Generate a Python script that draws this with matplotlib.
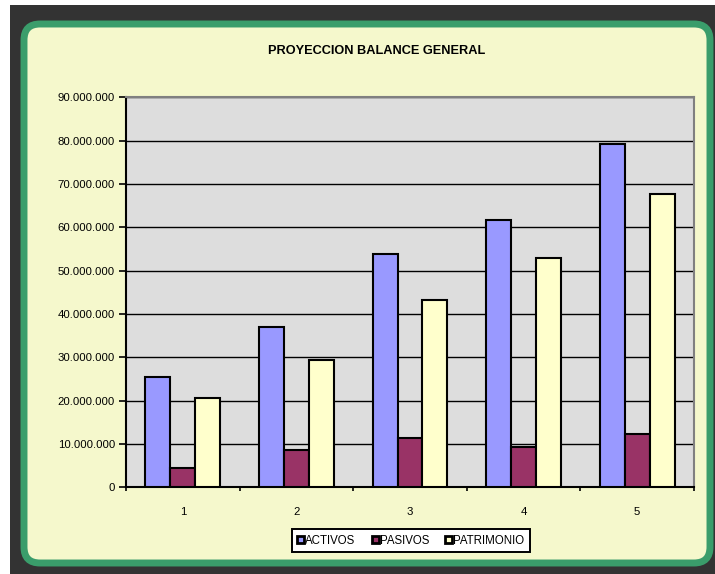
import numpy as np
import matplotlib.pyplot as plt
from matplotlib.patches import Rectangle, FancyBboxPatch
from matplotlib.ticker import FuncFormatter

plt.rcParams['font.family'] = ['Liberation Sans', 'DejaVu Sans']

years = ['1', '2', '3', '4', '5']
activos = [25.4e6, 37.1e6, 53.8e6, 61.7e6, 79.3e6]
pasivos = [4.5e6, 8.5e6, 11.3e6, 9.4e6, 12.4e6]
patrimonio = [20.5e6, 29.4e6, 43.2e6, 53.0e6, 67.8e6]

W, H = 715, 574
fig = plt.figure(figsize=(W / 100, H / 100), dpi=100)
fig.patch.set_facecolor('white')

# background: dark frame + rounded green box, drawn in pixel units
bg = fig.add_axes([0, 0, 1, 1], zorder=-10)
bg.set_xlim(0, W)
bg.set_ylim(H, 0)
bg.axis('off')
bg.add_patch(Rectangle((10, 5), W - 10, H - 5, facecolor='#333333', edgecolor='none'))
bg.add_patch(FancyBboxPatch((40, 40), 654, 507, boxstyle='round,pad=16',
                            facecolor='#F5F8CC', edgecolor='#3A9D6B', linewidth=5))

# plot area
x0, x1 = 126, 694
y0, y1 = 97.3, 487.3
ax = fig.add_axes([x0 / W, 1 - y1 / H, (x1 - x0) / W, (y1 - y0) / H])
ax.set_facecolor('#DDDDDD')

x = np.arange(len(years))
w = 0.22
series = [(activos, '#9999FF', 'ACTIVOS'),
          (pasivos, '#993366', 'PASIVOS'),
          (patrimonio, '#FFFFCC', 'PATRIMONIO')]
for i, (vals, col, lab) in enumerate(series):
    ax.bar(x + (i - 1) * w, vals, w, color=col, edgecolor='black',
           linewidth=1.5, label=lab, zorder=3)

ax.set_xlim(-0.5, len(years) - 0.5)
ax.set_ylim(0, 90e6)
ax.set_yticks(np.arange(0, 90e6 + 1, 10e6))
ax.yaxis.set_major_formatter(FuncFormatter(lambda v, p: f'{int(v):,}'.replace(',', '.')))
ax.set_xticks(np.arange(-0.5, len(years), 1.0))
ax.set_xticklabels([])
ax.set_xticks(x, minor=True)
ax.set_xticklabels(years, minor=True)
ax.tick_params(axis='x', which='major', direction='out', length=3, width=1.2)
ax.tick_params(axis='x', which='minor', length=0, pad=14, labelsize=8.2)
ax.tick_params(axis='y', direction='out', length=5, width=1.2, labelsize=8.2, pad=3)

ax.grid(axis='y', color='black', linewidth=1, zorder=1)
ax.set_axisbelow(True)
for s in ['top', 'right']:
    ax.spines[s].set_color('#808080')
    ax.spines[s].set_linewidth(1.5)
for s in ['left', 'bottom']:
    ax.spines[s].set_color('black')
    ax.spines[s].set_linewidth(1.5)

fig.text(377 / W, 1 - 51 / H, 'PROYECCION BALANCE GENERAL', ha='center', va='center',
         fontsize=9.2, fontweight='bold')

leg = ax.legend(loc='center', bbox_to_anchor=(411 / W, 1 - 540.5 / H),
                bbox_transform=fig.transFigure, ncol=3, fontsize=8.3, frameon=True,
                fancybox=False, edgecolor='black', facecolor='white', framealpha=1,
                handlelength=0.6, handleheight=0.6, handletextpad=0.1,
                columnspacing=1.4, borderpad=0.5, borderaxespad=0)
leg.get_frame().set_linewidth(1.4)
for h in leg.legend_handles:
    h.set_linewidth(2)

fig.savefig('out.png', dpi=100)
